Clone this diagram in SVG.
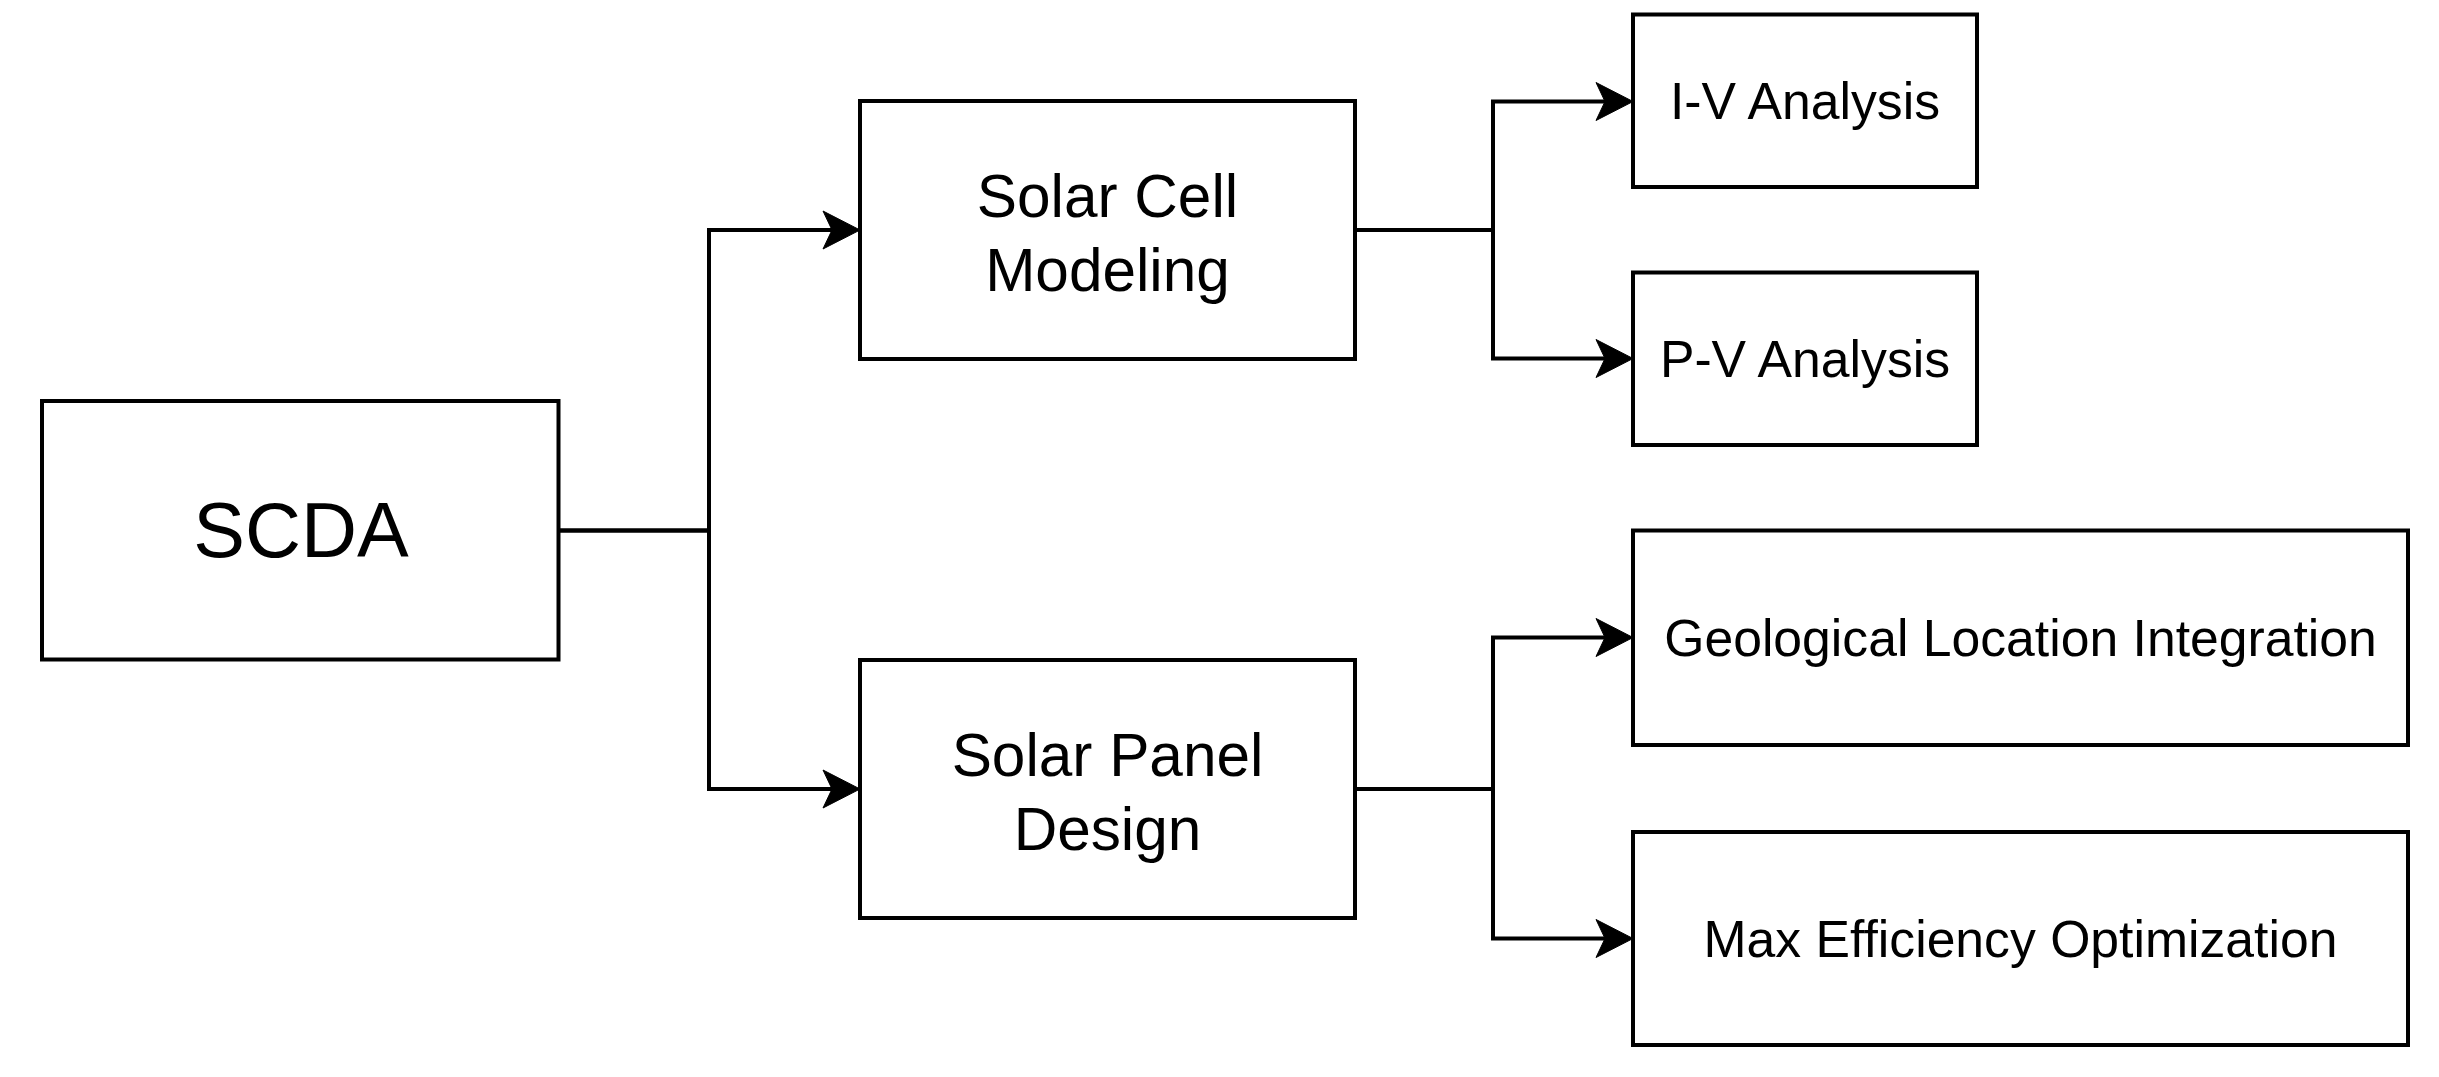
<svg xmlns="http://www.w3.org/2000/svg" width="2439" height="1077" viewBox="0 0 2439 1077">
<style>
.box{fill:#fff;stroke:#000;stroke-width:4}
.edge{fill:none;stroke:#000;stroke-width:4}
text{font-family:"Liberation Sans",Arial,Helvetica,sans-serif;fill:#000;text-anchor:middle}
.t1{font-size:77.5px}
.t2{font-size:60.3px}
.t3{font-size:51.7px}
</style>
<defs>
<marker id="arr" markerUnits="userSpaceOnUse" markerWidth="60" markerHeight="60" viewBox="-50 -25 60 50" refX="-8" refY="0" orient="auto" overflow="visible">
<path d="M0,0 L-37,-19 L-28,0 L-37,19 Z" fill="#000" stroke="#000" stroke-width="1"/>
</marker>
</defs>
<rect width="2439" height="1077" fill="#fff"/>
<g id="connectors">
<path class="edge" d="M558.5,530.5 H709 V230 H852" marker-end="url(#arr)"/>
<path class="edge" d="M558.5,530.5 H709 V789 H852" marker-end="url(#arr)"/>
<path class="edge" d="M1355,230 H1493 V101.5 H1625" marker-end="url(#arr)"/>
<path class="edge" d="M1355,230 H1493 V358.5 H1625" marker-end="url(#arr)"/>
<path class="edge" d="M1355,789 H1493 V637.5 H1625" marker-end="url(#arr)"/>
<path class="edge" d="M1355,789 H1493 V938.5 H1625" marker-end="url(#arr)"/>
</g>
<g id="scda">
<rect class="box" x="42" y="401" width="516.5" height="258.5"/>
<text class="t1" x="301" y="557">SCDA</text>
</g>
<g id="solar-cell-modeling">
<rect class="box" x="860" y="101" width="495" height="258"/>
<text class="t2" x="1107.5" y="216.5">Solar Cell</text>
<text class="t2" x="1107.5" y="290.5">Modeling</text>
</g>
<g id="solar-panel-design">
<rect class="box" x="860" y="660" width="495" height="258"/>
<text class="t2" x="1107.5" y="776">Solar Panel</text>
<text class="t2" x="1107.5" y="850">Design</text>
</g>
<g id="iv-analysis">
<rect class="box" x="1633" y="14.5" width="344" height="172.5"/>
<text class="t3" x="1805" y="119">I-V Analysis</text>
</g>
<g id="pv-analysis">
<rect class="box" x="1633" y="272.5" width="344" height="172.5"/>
<text class="t3" x="1805" y="377">P-V Analysis</text>
</g>
<g id="geological-location-integration">
<rect class="box" x="1633" y="530.5" width="775" height="214.5"/>
<text class="t3" x="2020.5" y="656">Geological Location Integration</text>
</g>
<g id="max-efficiency-optimization">
<rect class="box" x="1633" y="832" width="775" height="213"/>
<text class="t3" x="2020.5" y="957">Max Efficiency Optimization</text>
</g>
</svg>
